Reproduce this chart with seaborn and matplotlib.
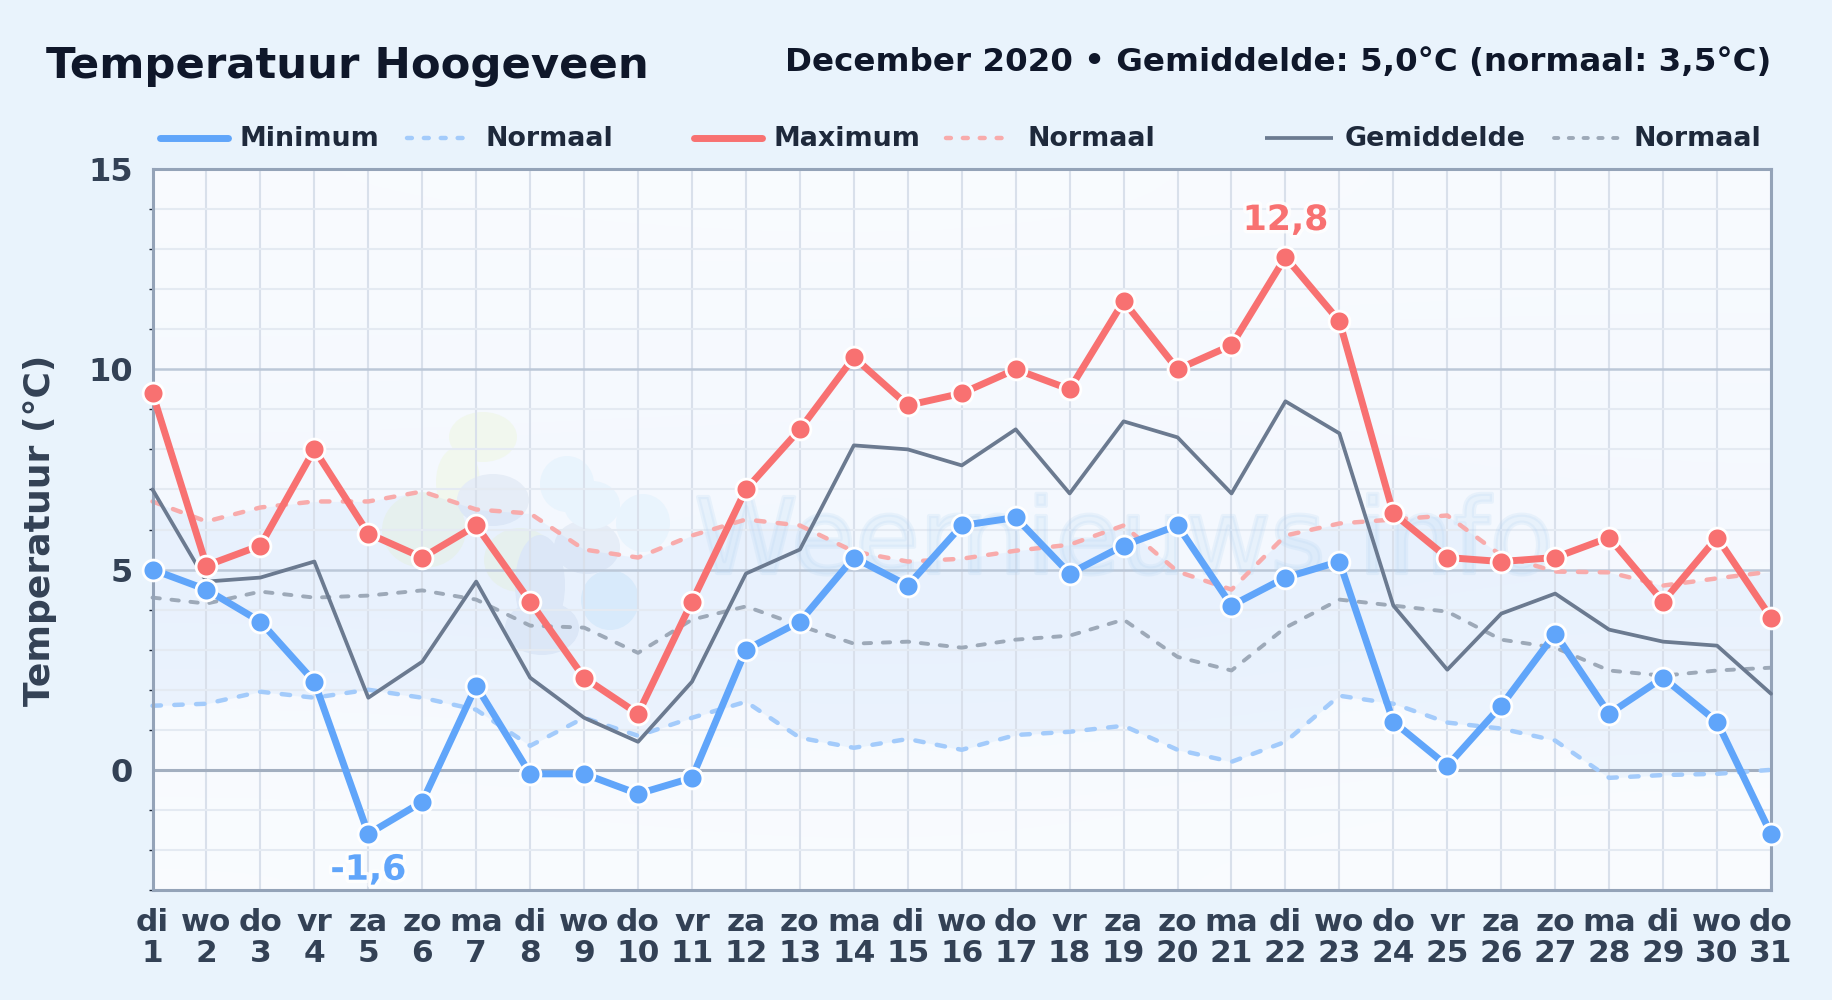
import matplotlib
matplotlib.use('Agg')
import matplotlib.pyplot as plt
import numpy as np
import seaborn as sns
from matplotlib.lines import Line2D
from matplotlib.patches import Ellipse
from matplotlib import patheffects as pe

days = list(range(1, 32))
weekdays = ['di', 'wo', 'do', 'vr', 'za', 'zo', 'ma', 'di', 'wo', 'do', 'vr', 'za', 'zo', 'ma', 'di', 'wo',
            'do', 'vr', 'za', 'zo', 'ma', 'di', 'wo', 'do', 'vr', 'za', 'zo', 'ma', 'di', 'wo', 'do']

temp_min = [5.0, 4.5, 3.7, 2.2, -1.6, -0.8, 2.1, -0.1, -0.1, -0.6, -0.2, 3.0, 3.7, 5.3, 4.6, 6.1,
            6.3, 4.9, 5.6, 6.1, 4.1, 4.8, 5.2, 1.2, 0.1, 1.6, 3.4, 1.4, 2.3, 1.2, -1.6]
temp_max = [9.4, 5.1, 5.6, 8.0, 5.9, 5.3, 6.1, 4.2, 2.3, 1.4, 4.2, 7.0, 8.5, 10.3, 9.1, 9.4,
            10.0, 9.5, 11.7, 10.0, 10.6, 12.8, 11.2, 6.4, 5.3, 5.2, 5.3, 5.8, 4.2, 5.8, 3.8]
temp_mean = [7.0, 4.7, 4.8, 5.2, 1.8, 2.7, 4.7, 2.3, 1.3, 0.7, 2.2, 4.9, 5.5, 8.1, 8.0, 7.6,
             8.5, 6.9, 8.7, 8.3, 6.9, 9.2, 8.4, 4.1, 2.5, 3.9, 4.4, 3.5, 3.2, 3.1, 1.9]
norm_min = [1.6, 1.65, 1.95, 1.8, 2.0, 1.8, 1.5, 0.6, 1.3, 0.85, 1.3, 1.7, 0.8, 0.55, 0.77, 0.5,
            0.87, 0.95, 1.1, 0.5, 0.2, 0.7, 1.85, 1.65, 1.18, 1.03, 0.73, -0.2, -0.13, -0.1, 0.0]
norm_max = [6.7, 6.2, 6.55, 6.7, 6.7, 6.95, 6.5, 6.4, 5.5, 5.3, 5.85, 6.25, 6.1, 5.45, 5.2, 5.27,
            5.47, 5.62, 6.1, 4.95, 4.5, 5.85, 6.15, 6.25, 6.35, 5.35, 4.95, 4.93, 4.6, 4.78, 4.95]
norm_mean = [4.3, 4.15, 4.45, 4.3, 4.35, 4.48, 4.25, 3.6, 3.55, 2.92, 3.75, 4.08, 3.6, 3.15, 3.2, 3.05,
             3.25, 3.35, 3.75, 2.82, 2.48, 3.55, 4.25, 4.1, 3.95, 3.25, 3.05, 2.48, 2.35, 2.48, 2.55]

BG = '#E9F3FC'
BLUE = '#60A5FA'
RED = '#F87171'
SLATE = '#6B7A90'
NORM_BLUE = '#A3CBFB'
NORM_RED = '#F8ABAB'
NORM_GREY = '#9DA9B8'
DASHES = (0, (1.9, 3.0))
LEGEND_DASHES = (0, (1.1, 2.7))

sns.set_theme(style='white')
plt.rcParams['font.family'] = ['DejaVu Sans']

W, H = 1832, 1000
fig = plt.figure(figsize=(W / 100, H / 100), dpi=100, facecolor=BG)
ax = fig.add_axes([152.5 / W, 1 - 890 / H, (1771 - 152.5) / W, (890 - 169) / H])
ax.set_axisbelow(True)

# plot background, very slightly darker towards the middle
shade = np.array([[0.2, 0.5, 0.8, 0.5, 0.1], [0.1, 0.6, 0.9, 0.7, 0.2], [0.3, 0.5, 0.7, 0.4, 0.0]]).T
ax.imshow(shade, extent=(0, 1, 0, 1), transform=ax.transAxes, aspect='auto',
          cmap=sns.blend_palette(['#FAFCFF', '#F2F7FE'], as_cmap=True),
          interpolation='bicubic', vmin=0, vmax=1, zorder=0)


def px(x, y):
    return x / W, 1 - y / H


# watermark logo, positions in picture pixels
green = '#F1F7EE'
grey = '#E6EDF7'
light = '#E9F4FD'
blue2 = '#E2F0FC'
blobs = [(483, 437, 68, 50, green), (458, 482, 44, 70, green), (424, 530, 84, 76, green), (520, 560, 72, 64, green),
         (493, 500, 72, 52, grey), (587, 547, 66, 54, grey), (542, 628, 74, 54, grey), (540, 585, 50, 100, grey),
         (567, 484, 54, 56, light), (592, 505, 56, 48, light), (643, 523, 54, 58, light), (610, 600, 58, 60, blue2)]
for bx, by, bw, bh, bc in blobs:
    ax.add_patch(Ellipse(px(bx, by), bw / W, bh / H, transform=fig.transFigure, facecolor=bc, edgecolor='none', zorder=0.2))

ax.fill_between(days, norm_min, norm_max, color=BLUE, alpha=0.075, linewidth=0, zorder=0.3)

ax.set_xlim(1, 31)
ax.set_ylim(-3, 15)
ax.set_xticks(days)
ax.set_xticklabels([f'{w}\n{d}' for w, d in zip(weekdays, days)])
ax.set_yticks([0, 5, 10, 15])
ax.set_yticks([v for v in range(-3, 15) if v % 5 != 0], minor=True)
ax.grid(True, axis='x', color='#D9E0EB', linewidth=1.5)
ax.grid(True, axis='y', which='minor', color='#E4EAF2', linewidth=1.5)
ax.grid(True, axis='y', which='major', color='#BCC8D8', linewidth=1.8)
ax.axhline(0, color='#A3AFC0', linewidth=2.2, zorder=0.6)

ax.text(1124, 1000 - 573, 'Weernieuws.info', transform=None, fontsize=75, color='#B5D5F2', alpha=0.2,
        ha='center', va='baseline', zorder=1, path_effects=[pe.Stroke(linewidth=3, foreground='#B5D5F2', alpha=0.2)])

for series, col, lw in [(norm_min, NORM_BLUE, 3.2), (norm_max, NORM_RED, 3.2), (norm_mean, NORM_GREY, 2.8)]:
    sns.lineplot(x=days, y=series, ax=ax, color=col, linewidth=lw, linestyle=DASHES, dash_capstyle='round',
                 zorder=2, clip_on=False)
sns.lineplot(x=days, y=temp_mean, ax=ax, color=SLATE, linewidth=2.7, zorder=3, clip_on=False)
sns.lineplot(x=days, y=temp_min, ax=ax, color=BLUE, linewidth=5, marker='o', markersize=15, markeredgecolor='white',
             markeredgewidth=2, zorder=4, clip_on=False)
sns.lineplot(x=days, y=temp_max, ax=ax, color=RED, linewidth=5, marker='o', markersize=15, markeredgecolor='white',
             markeredgewidth=2, zorder=5, clip_on=False)

halo = [pe.withStroke(linewidth=5, foreground='#FFFFFF', alpha=0.8)]
ax.annotate('12,8', (22, 12.8), xytext=(0, 14.5), textcoords='offset points', ha='center', va='bottom', fontsize=25,
            fontweight='bold', color=RED, path_effects=halo, zorder=6)
ax.annotate('-1,6', (5, -1.6), xytext=(0, -13.5), textcoords='offset points', ha='center', va='top', fontsize=25,
            fontweight='bold', color=BLUE, path_effects=halo, zorder=6)

for s in ax.spines.values():
    s.set_visible(True)
    s.set_color('#94A3B8')
    s.set_linewidth(2.2)

ax.tick_params(axis='x', which='major', length=0, pad=13, labelsize=22.5, labelcolor='#334155')
ax.tick_params(axis='y', which='major', length=0, pad=14, labelsize=23, labelcolor='#334155')
ax.tick_params(axis='y', which='minor', length=3, width=1, color='#1E293B', left=True)
for lab in ax.get_xticklabels() + ax.get_yticklabels():
    lab.set_fontweight('bold')
for lab in ax.get_xticklabels():
    lab.set_linespacing(1.1)

ax.set_xlabel('')
ax.set_ylabel('')
fig.text(40 / W, 1 - 530 / H, 'Temperatuur (°C)', rotation=90, ha='center', va='center', fontsize=26, fontweight='bold', color='#334155')

fig.text(46 / W, 1 - 66 / H, 'Temperatuur Hoogeveen', ha='left', va='center', fontsize=31.2, fontweight='bold', color='#0F172A')
fig.text(1771 / W, 1 - 62 / H, 'December 2020 • Gemiddelde: 5,0°C (normaal: 3,5°C)', ha='right', va='center', fontsize=23.4,
         fontweight='bold', color='#0F172A')

# legend row, swatch start/end and label start in picture pixels
legend_items = [
    (160, 228, 240, 'Minimum', BLUE, 5, '-'),
    (407, 465, 486, 'Normaal', NORM_BLUE, 3.2, LEGEND_DASHES),
    (694, 762, 774, 'Maximum', RED, 5, '-'),
    (946, 1005, 1027, 'Normaal', NORM_RED, 3.2, LEGEND_DASHES),
    (1265, 1333, 1345, 'Gemiddelde', SLATE, 2.7, '-'),
    (1554, 1619, 1633, 'Normaal', NORM_GREY, 2.8, LEGEND_DASHES),
]
for x0, x1, xt, label, col, lw, ls in legend_items:
    fig.add_artist(Line2D([x0 / W, x1 / W], [1 - 138 / H, 1 - 138 / H], color=col, linewidth=lw, linestyle=ls,
                          solid_capstyle='round' if col != SLATE else 'butt', dash_capstyle='round'))
    fig.text(xt / W, 1 - 139 / H, label, ha='left', va='center', fontsize=19.4, fontweight='bold', color='#1E293B')

fig.savefig('out.png', dpi=100, facecolor=BG)
